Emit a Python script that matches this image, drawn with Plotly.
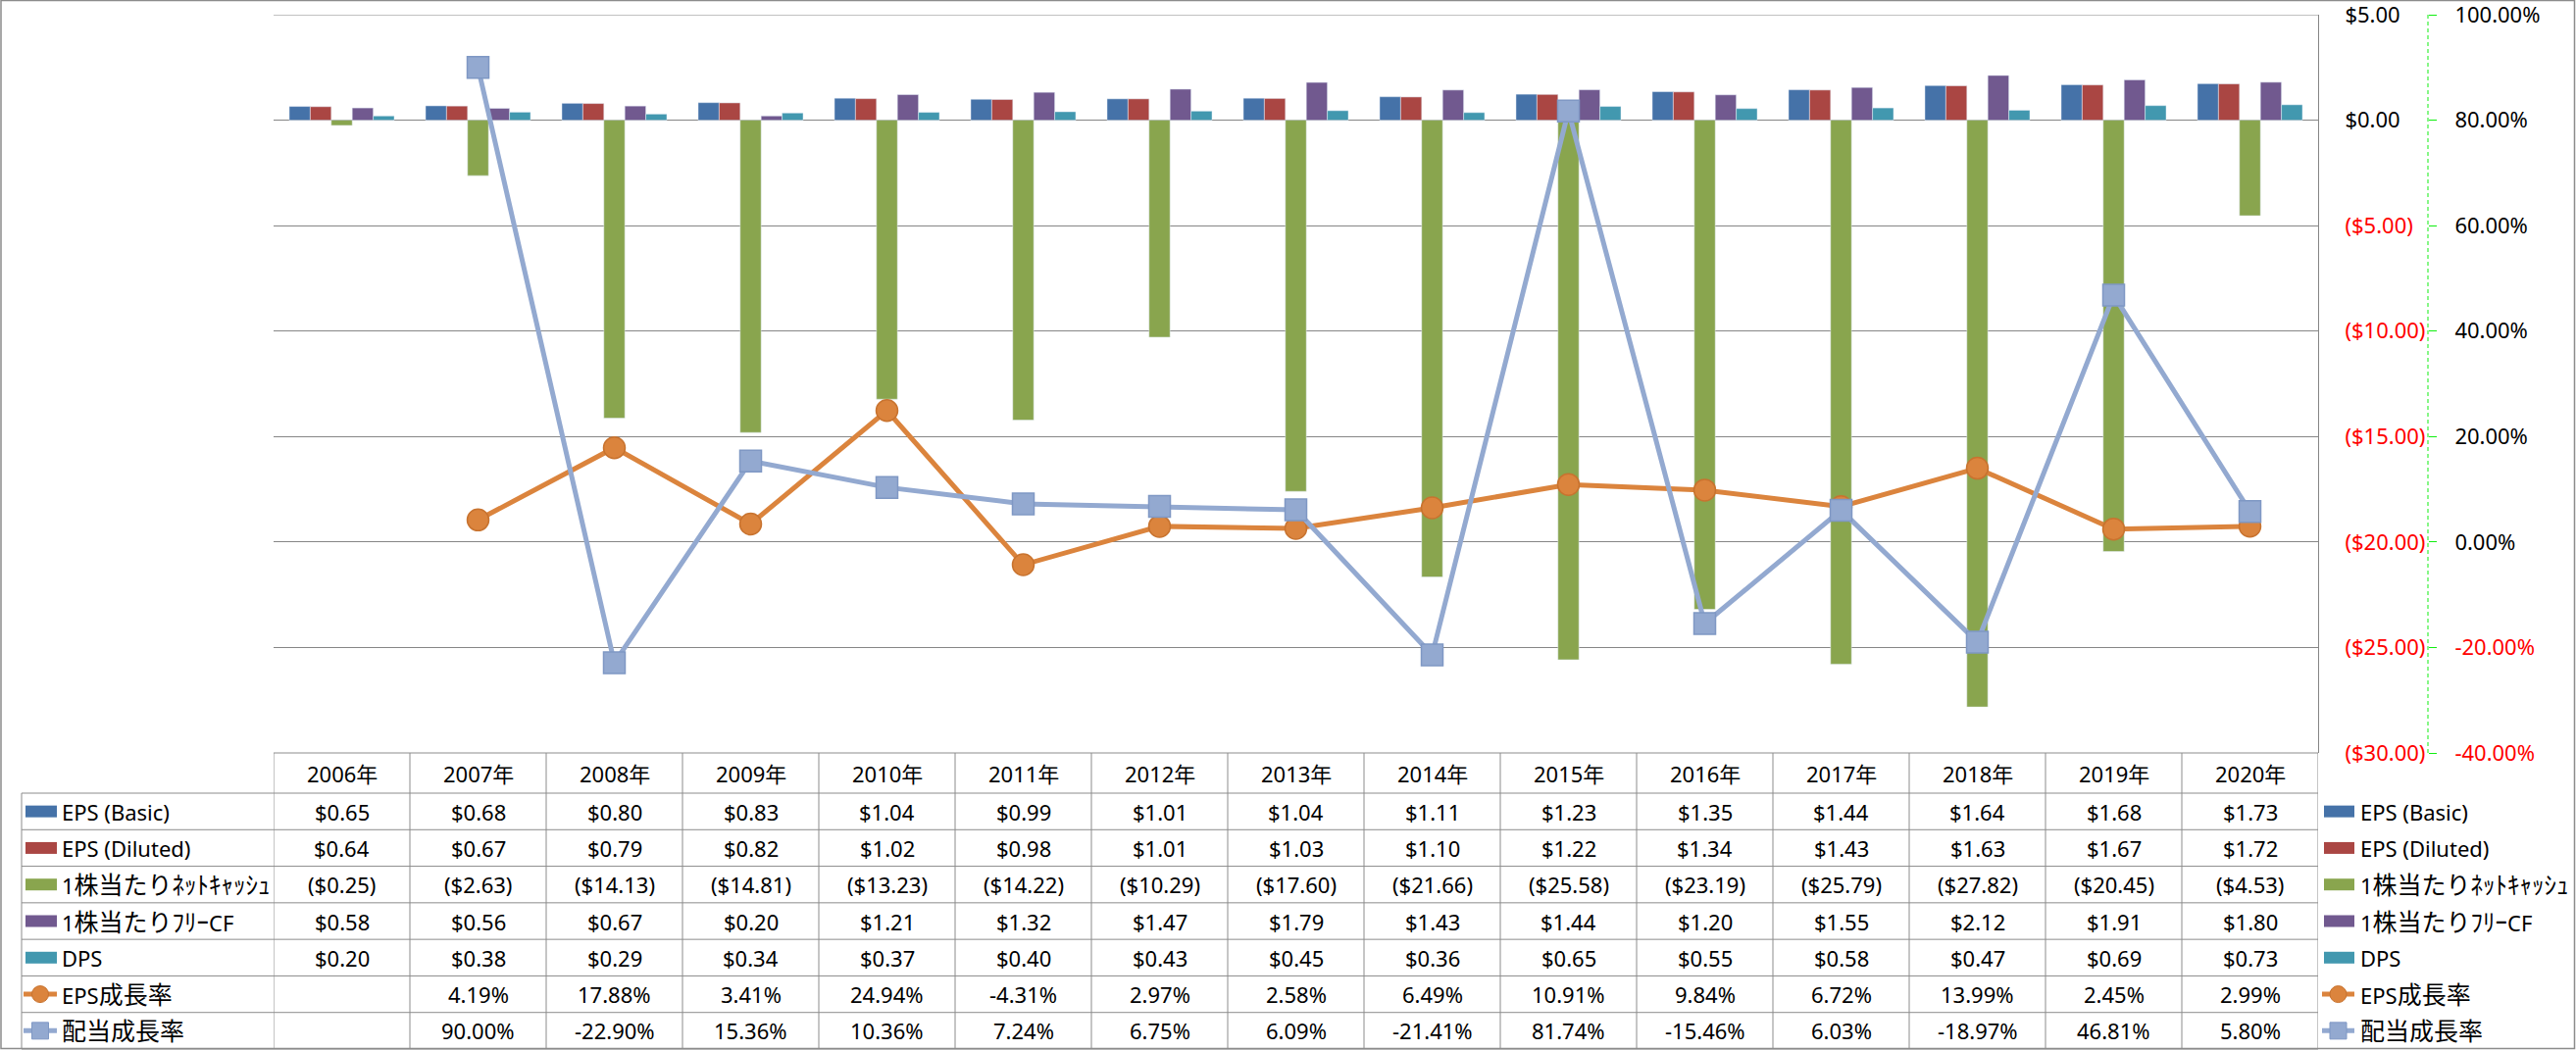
import re
import plotly.graph_objects as go

# ---------------- data ----------------
years = ["2006年", "2007年", "2008年", "2009年", "2010年", "2011年", "2012年", "2013年",
         "2014年", "2015年", "2016年", "2017年", "2018年", "2019年", "2020年"]

eps_basic = [0.65, 0.68, 0.80, 0.83, 1.04, 0.99, 1.01, 1.04, 1.11, 1.23, 1.35, 1.44, 1.64, 1.68, 1.73]
eps_diluted = [0.64, 0.67, 0.79, 0.82, 1.02, 0.98, 1.01, 1.03, 1.10, 1.22, 1.34, 1.43, 1.63, 1.67, 1.72]
net_cash_ps = [-0.25, -2.63, -14.13, -14.81, -13.23, -14.22, -10.29, -17.60, -21.66, -25.58,
               -23.19, -25.79, -27.82, -20.45, -4.53]
fcf_ps = [0.58, 0.56, 0.67, 0.20, 1.21, 1.32, 1.47, 1.79, 1.43, 1.44, 1.20, 1.55, 2.12, 1.91, 1.80]
dps = [0.20, 0.38, 0.29, 0.34, 0.37, 0.40, 0.43, 0.45, 0.36, 0.65, 0.55, 0.58, 0.47, 0.69, 0.73]
eps_growth = [None, 4.19, 17.88, 3.41, 24.94, -4.31, 2.97, 2.58, 6.49, 10.91, 9.84, 6.72, 13.99, 2.45, 2.99]
div_growth = [None, 90.00, -22.90, 15.36, 10.36, 7.24, 6.75, 6.09, -21.41, 81.74, -15.46, 6.03,
              -18.97, 46.81, 5.80]

bar_names = ["EPS (Basic)", "EPS (Diluted)", "1株当たりﾈｯﾄｷｬｯｼｭ", "1株当たりﾌﾘｰCF", "DPS"]
line_names = ["EPS成長率", "配当成長率"]

left_ticks = [5, 0, -5, -10, -15, -20, -25, -30]
right_ticks = [100, 80, 60, 40, 20, 0, -20, -40]

# ---------------- styles ----------------
bar_colors = ["#4572A8", "#AA4643", "#89A54E", "#71598F", "#4298AF"]
line_colors = ["#DB843D", "#93A9D0"]
marker_line_colors = ["#C8732F", "#7F98C4"]
marker_symbols = ["circle", "square"]
GRID = "#868686"
TBL = "#8C8C8C"
RED = "#FF0000"
GREEN = "#11EE11"
FONT = "Noto Sans, Noto Sans CJK JP, sans-serif"
FS = 22
CJK_FS = 25

W, H = 2627, 1071
PLOT_L, PLOT_R, AXIS2_X, PLOT_T, PLOT_B = 279, 2364, 2476, 15, 768
PW = AXIS2_X - PLOT_L
PH = PLOT_B - PLOT_T


def px(x):
    return (x - PLOT_L) / PW


def py(y):
    return (PLOT_B - y) / PH


HEADER_BOTTOM = 809
TABLE_BOTTOM = 1070
ROW_H = (TABLE_BOTTOM - HEADER_BOTTOM) / 7
row_bounds = [HEADER_BOTTOM + ROW_H * k for k in range(8)]
row_centers = [HEADER_BOTTOM + ROW_H * (k + 0.5) for k in range(7)]
header_center = (PLOT_B + HEADER_BOTTOM) / 2


def money(v):
    return f"${v:.2f}" if v >= 0 else f"(${-v:.2f})"


def pct(v):
    return "" if v is None else f"{v:.2f}%"


def red(s):
    return f'<span style="color:{RED}">{s}</span>'


CJK_RE = re.compile(r"([\u3000-\u30ff\u4e00-\u9fff\uff00-\uffef]+)")


def cjk(s):
    return CJK_RE.sub(lambda m: f'<span style="font-size:{CJK_FS}px">{m.group(1)}</span>', s)


fig = go.Figure()

bar_series = [eps_basic, eps_diluted, net_cash_ps, fcf_ps, dps]
for name, vals, col in zip(bar_names, bar_series, bar_colors):
    fig.add_trace(go.Bar(x=years, y=vals, name=name, marker_color=col, yaxis="y"))

line_series = [eps_growth, div_growth]
for name, vals, col, mcol, sym in zip(line_names, line_series, line_colors, marker_line_colors, marker_symbols):
    fig.add_trace(go.Scatter(x=years, y=vals, name=name, yaxis="y2", mode="lines+markers",
                             line=dict(color=col, width=5),
                             marker=dict(symbol=sym, size=22, color=col, line=dict(color=mcol, width=1.5)),
                             connectgaps=False))

left_text = [money(v) if v >= 0 else red(money(v)) for v in left_ticks]
right_text = [f"{v:.2f}%" if v >= 0 else red(f"{v:.2f}%") for v in right_ticks]

shapes = []
annotations = []

# top gridline
shapes.append(dict(type="line", xref="paper", yref="y", x0=0, x1=px(PLOT_R), y0=left_ticks[0],
                   y1=left_ticks[0], line=dict(color=GRID, width=1), layer="below"))

# table grid
for yb in row_bounds:
    shapes.append(dict(type="line", xref="paper", yref="paper", x0=px(22), x1=px(PLOT_R),
                       y0=py(yb), y1=py(yb), line=dict(color=TBL, width=1)))
shapes.append(dict(type="line", xref="paper", yref="paper", x0=px(PLOT_L), x1=px(PLOT_R),
                   y0=py(PLOT_B), y1=py(PLOT_B), line=dict(color=TBL, width=1)))
for i in range(len(years) + 1):
    shapes.append(dict(type="line", xref="x", yref="paper", x0=i - 0.5, x1=i - 0.5,
                       y0=py(PLOT_B), y1=py(TABLE_BOTTOM), line=dict(color=TBL, width=1)))
shapes.append(dict(type="line", xref="paper", yref="paper", x0=px(22), x1=px(22),
                   y0=py(HEADER_BOTTOM), y1=py(TABLE_BOTTOM), line=dict(color=TBL, width=1)))

# secondary axis dashed line
shapes.append(dict(type="line", xref="paper", yref="paper", x0=1, x1=1, y0=0, y1=1,
                   line=dict(color=GREEN, width=1, dash="4px,3px")))

# outer chart border
shapes.append(dict(type="rect", xref="paper", yref="paper", x0=px(1), x1=px(W - 1.5),
                   y0=py(0.5), y1=py(H - 1.5), line=dict(color=TBL, width=1.5)))

# header
for i, yr in enumerate(years):
    annotations.append(dict(xref="x", yref="paper", x=i, y=py(header_center), text=yr,
                            showarrow=False, xanchor="center", yanchor="middle"))

row_values = [[money(v) for v in s] for s in bar_series] + [[pct(v) for v in s] for s in line_series]
all_names = bar_names + line_names
for r, vals in enumerate(row_values):
    for i, t in enumerate(vals):
        if t:
            annotations.append(dict(xref="x", yref="paper", x=i, y=py(row_centers[r]), text=t,
                                    showarrow=False, xanchor="center", yanchor="middle"))


def legend_key(x0, x1, yc, r):
    if r < len(bar_names):
        shapes.append(dict(type="rect", xref="paper", yref="paper", x0=px(x0), x1=px(x1),
                           y0=py(yc + 6), y1=py(yc - 6), line=dict(width=0),
                           fillcolor=bar_colors[r]))
    else:
        k = r - len(bar_names)
        shapes.append(dict(type="line", xref="paper", yref="paper", x0=px(x0 - 2), x1=px(x1),
                           y0=py(yc), y1=py(yc), line=dict(color=line_colors[k], width=5)))
        cx = (x0 - 2 + x1) / 2
        shapes.append(dict(type="circle" if k == 0 else "rect", xref="paper", yref="paper",
                           x0=px(cx - 8.5), x1=px(cx + 8.5), y0=py(yc + 8.5), y1=py(yc - 8.5),
                           line=dict(color=marker_line_colors[k], width=1),
                           fillcolor=line_colors[k]))


for r, name in enumerate(all_names):
    yc = row_centers[r]
    legend_key(26, 58, yc, r)
    annotations.append(dict(xref="paper", yref="paper", x=px(61), y=py(yc), text=cjk(name),
                            showarrow=False, xanchor="left", yanchor="middle"))
    legend_key(2370, 2401, yc, r)
    annotations.append(dict(xref="paper", yref="paper", x=px(2405), y=py(yc), text=cjk(name),
                            showarrow=False, xanchor="left", yanchor="middle"))

fig.update_layout(
    width=W, height=H,
    margin=dict(l=PLOT_L, r=W - AXIS2_X, t=PLOT_T, b=H - PLOT_B, pad=0),
    paper_bgcolor="white", plot_bgcolor="white",
    font=dict(family=FONT, size=FS, color="black"),
    showlegend=False,
    barmode="group", bargap=0.23, bargroupgap=0,
    xaxis=dict(domain=[0, px(PLOT_R)], range=[-0.5, len(years) - 0.5], showticklabels=False,
               showgrid=False, zeroline=False, showline=False, ticks="", automargin=False),
    yaxis=dict(side="right", anchor="x", range=[-30, 5], tickvals=left_ticks, ticktext=left_text,
               showgrid=True, gridcolor=GRID, gridwidth=1, zeroline=True, zerolinecolor=GRID,
               zerolinewidth=1, showline=True, linecolor=GRID, linewidth=1, ticks="",
               ticklabelstandoff=22, ticklabeloverflow="allow", automargin=False),
    yaxis2=dict(overlaying="y", anchor="free", position=1, side="right", range=[-40, 100],
                tickvals=right_ticks, ticktext=right_text, showgrid=False, zeroline=False,
                showline=False, ticks="outside", ticklen=8, tickcolor=GREEN, tickwidth=1,
                ticklabelstandoff=14, ticklabeloverflow="allow", automargin=False),
    shapes=shapes,
    annotations=annotations,
)

fig.write_html("out.html", config={"displayModeBar": False},
               post_script="document.body.style.margin='0';document.body.style.overflow='hidden';")
